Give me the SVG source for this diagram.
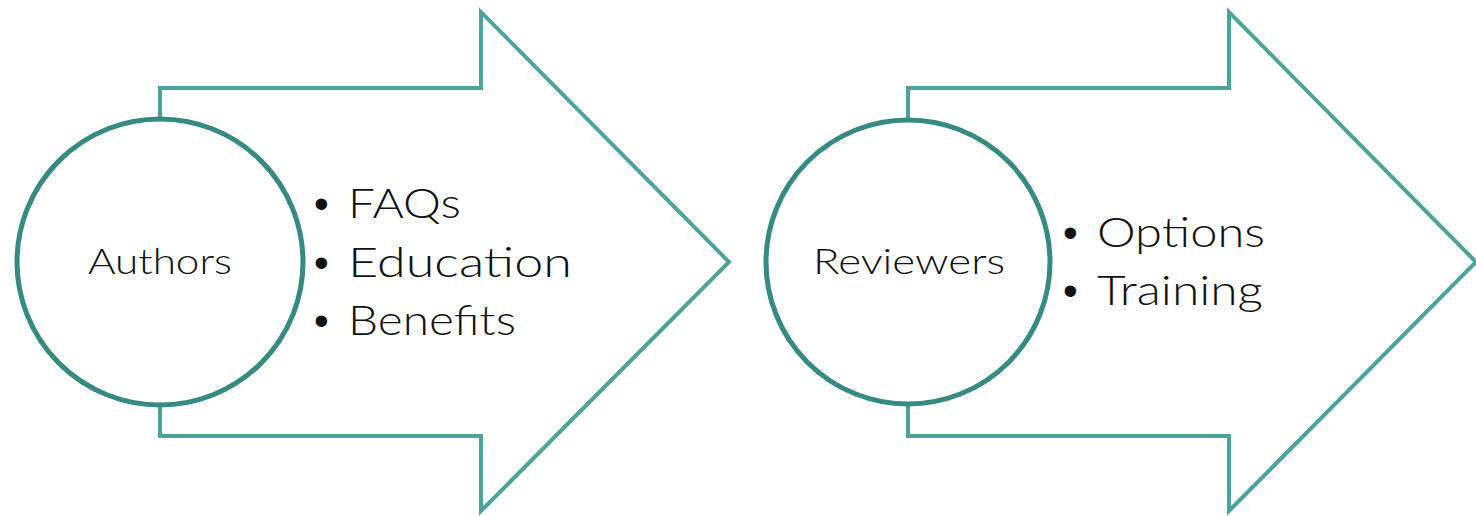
<svg xmlns="http://www.w3.org/2000/svg" width="1476" height="516" viewBox="0 0 1476 516">
<style>
.arrow{fill:#ffffff;stroke:#4ba39a;stroke-width:4;stroke-linejoin:miter}
.circ{fill:#ffffff;stroke:#358a82;stroke-width:5}
.lbl{font-family:Lato,"Liberation Sans",Arial,sans-serif;font-weight:300;font-size:35px;fill:#111111;text-anchor:middle}
.item{font-family:Lato,"Liberation Sans",Arial,sans-serif;font-weight:300;font-size:42px;fill:#111111}
.bul{font-family:"Liberation Sans",Arial,sans-serif;font-size:42px;fill:#111111}
</style>
<rect width="1476" height="516" fill="#ffffff"/>
<g id="node-authors">
<path class="arrow" d="M160,88 H481 V12 L729,262 L481,511 V436 H160 Z"/>
<circle class="circ" cx="160" cy="262" r="143"/>
<text class="lbl" x="160" y="274" textLength="144" lengthAdjust="spacingAndGlyphs">Authors</text>
<text class="bul" x="314" y="218">•</text>
<text class="item" x="348" y="218" textLength="113" lengthAdjust="spacingAndGlyphs">FAQs</text>
<text class="bul" x="314" y="277">•</text>
<text class="item" x="348" y="277" textLength="224" lengthAdjust="spacingAndGlyphs">Education</text>
<text class="bul" x="314" y="335">•</text>
<text class="item" x="348" y="335" textLength="168" lengthAdjust="spacingAndGlyphs">Benefits</text>
</g>
<g id="node-reviewers">
<path class="arrow" d="M908,88 H1229 V12 L1476,262 L1229,511 V436 H908 Z"/>
<circle class="circ" cx="908" cy="262" r="142"/>
<text class="lbl" x="909" y="274" textLength="192" lengthAdjust="spacingAndGlyphs">Reviewers</text>
<text class="bul" x="1063" y="247">•</text>
<text class="item" x="1097" y="247" textLength="168" lengthAdjust="spacingAndGlyphs">Options</text>
<text class="bul" x="1063" y="305">•</text>
<text class="item" x="1097" y="305" textLength="166" lengthAdjust="spacingAndGlyphs">Training</text>
</g>
<g id="connectors"></g>
</svg>
